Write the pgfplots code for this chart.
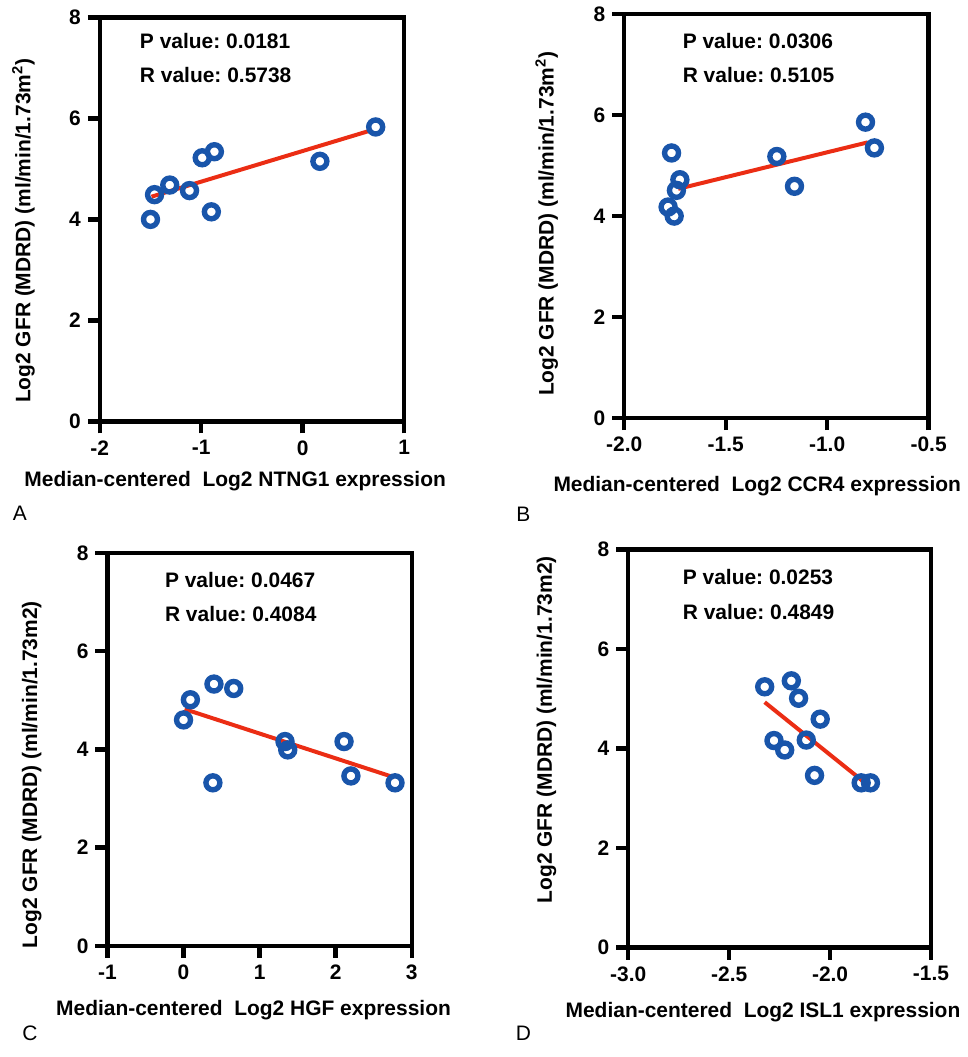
\documentclass[border=0pt]{standalone}
\usepackage{fontspec}
\setmainfont{Liberation Sans}
\usepackage{pgfplots}
\pgfplotsset{compat=1.18}
\frenchspacing
\definecolor{ptblue}{RGB}{25,85,170}
\definecolor{ptred}{RGB}{235,45,20}
\newcommand{\pf}{\fontsize{10.5}{12}\selectfont\bfseries}
\pgfplotsset{
  panel/.style={
    scale only axis,
    axis line style={line width=2.2pt},
    tick style={line width=2.2pt, black},
    major tick length=6pt,
    tick align=outside,
    xtick pos=bottom, ytick pos=left,
    ymin=0, ymax=8, ytick={0,2,4,6,8},
    /pgf/number format/assume math mode=true,
    tick label style={font=\pf},
    label style={font=\pf},
    clip=false,
  },
  pts/.style={only marks, mark=o, mark size=3.5pt, mark options={line width=2.7pt, draw=ptblue}},
  fitl/.style={no marks, draw=ptred, line width=2pt},
}
\begin{document}
\begin{tikzpicture}
\path (0,0) rectangle (483pt,-528.5pt);
% Panel A
\begin{axis}[panel, at={(50pt,-7.5pt)}, anchor=north west,
  width=152.5pt, height=202.5pt,
  xmin=-2, xmax=1, xtick={-2,-1,0,1},
  xlabel={Median-centered\ \ Log2 NTNG1 expression},
  ylabel={Log2 GFR (MDRD) (ml/min/1.73m\textsuperscript{2})},
  xlabel style={at={(axis description cs:0.445,-0.148)}, anchor=center},
  ylabel style={at={(axis description cs:-0.251,0.472)}, anchor=center, rotate=0}]
\addplot[fitl] coordinates {(-1.49,4.45) (0.67,5.76)};
\addplot[pts] coordinates {(-1.50,4.00) (-1.46,4.49) (-1.31,4.68) (-1.115,4.57) (-0.99,5.22) (-0.87,5.34) (-0.90,4.15) (0.17,5.15) (0.72,5.83)};
\node[anchor=west, font=\pf] at (rel axis cs:0.109,0.942) {P value: 0.0181};
\node[anchor=west, font=\pf] at (rel axis cs:0.109,0.858) {R value: 0.5738};
\end{axis}
% Panel B
\begin{axis}[panel, at={(312.85pt,-5.85pt)}, anchor=north west,
  width=152.5pt, height=202.5pt,
  xmin=-2, xmax=-0.5, xtick={-2,-1.5,-1,-0.5},
  xticklabel style={/pgf/number format/.cd, fixed, fixed zerofill, precision=1},
  xlabel={Median-centered\ \ Log2 CCR4 expression},
  ylabel={Log2 GFR (MDRD) (ml/min/1.73m\textsuperscript{2})},
  xlabel style={at={(axis description cs:0.437,-0.168)}, anchor=center},
  ylabel style={at={(axis description cs:-0.255,0.481)}, anchor=center}]
\addplot[fitl] coordinates {(-1.734,4.54) (-0.80,5.46)};
\addplot[pts] coordinates {(-1.767,5.25) (-1.726,4.72) (-1.743,4.51) (-1.784,4.18) (-1.754,4.00) (-1.248,5.18) (-1.161,4.59) (-0.811,5.86) (-0.767,5.35)};
\node[anchor=west, font=\pf] at (rel axis cs:0.169,0.934) {P value: 0.0306};
\node[anchor=west, font=\pf] at (rel axis cs:0.169,0.848) {R value: 0.5105};
\end{axis}
% Panel C
\begin{axis}[panel, at={(53.85pt,-275.85pt)}, anchor=north west,
  width=152.5pt, height=197pt,
  xmin=-1, xmax=3, xtick={-1,0,1,2,3},
  xlabel={Median-centered\ \ Log2 HGF expression},
  ylabel={Log2 GFR (MDRD) (ml/min/1.73m2)},
  xlabel style={at={(axis description cs:0.48,-0.162)}, anchor=center},
  ylabel style={at={(axis description cs:-0.249,0.436)}, anchor=center}]
\addplot[fitl] coordinates {(0.014,4.82) (2.77,3.43)};
\addplot[pts] coordinates {(0.0,4.60) (0.09,5.01) (0.40,5.33) (0.66,5.24) (0.386,3.32) (1.334,4.16) (1.37,3.99) (2.11,4.16) (2.20,3.46) (2.78,3.32)};
\node[anchor=west, font=\pf] at (rel axis cs:0.166,0.932) {P value: 0.0467};
\node[anchor=west, font=\pf] at (rel axis cs:0.166,0.844) {R value: 0.4084};
\end{axis}
% Panel D
\begin{axis}[panel, at={(314.85pt,-274.15pt)}, anchor=north west,
  width=151.7pt, height=199.5pt,
  xmin=-3, xmax=-1.5, xtick={-3,-2.5,-2,-1.5},
  xticklabel style={/pgf/number format/.cd, fixed, fixed zerofill, precision=1},
  xlabel={Median-centered\ \ Log2 ISL1 expression},
  ylabel={Log2 GFR (MDRD) (ml/min/1.73m2)},
  xlabel style={at={(axis description cs:0.445,-0.161)}, anchor=center},
  ylabel style={at={(axis description cs:-0.27,0.547)}, anchor=center}]
\addplot[fitl] coordinates {(-2.324,4.93) (-1.83,3.32)};
\addplot[pts] coordinates {(-2.324,5.24) (-2.192,5.36) (-2.156,5.01) (-2.049,4.59) (-2.278,4.16) (-2.225,3.97) (-2.118,4.17) (-2.077,3.46) (-1.846,3.31) (-1.80,3.31)};
\node[anchor=west, font=\pf] at (rel axis cs:0.157,0.931) {P value: 0.0253};
\node[anchor=west, font=\pf] at (rel axis cs:0.157,0.844) {R value: 0.4849};
\end{axis}
\node[font=\fontsize{10.5}{12}\selectfont] at (10pt,-256pt) {A};
\node[font=\fontsize{10.5}{12}\selectfont] at (262.3pt,-256.5pt) {B};
\node[font=\fontsize{10.5}{12}\selectfont] at (15pt,-516.5pt) {C};
\node[font=\fontsize{10.5}{12}\selectfont] at (262.3pt,-516.5pt) {D};
\end{tikzpicture}
\end{document}
